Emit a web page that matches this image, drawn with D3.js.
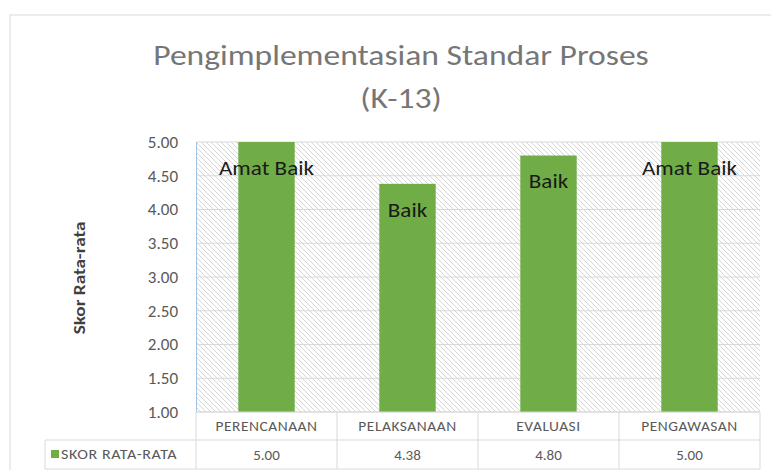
<!DOCTYPE html>
<html>
<head>
<meta charset="utf-8">
<script src="https://cdn.jsdelivr.net/npm/d3@7"></script>
<style>
    body { margin: 0; background: #fff; }
    svg { display: block; font-family: Carlito, Calibri, Lato, "Open Sans", sans-serif; }
</style>
</head>
<body>
<svg id="drawing_region"></svg>
<script>
// data
const categories = ['PERENCANAAN', 'PELAKSANAAN', 'EVALUASI', 'PENGAWASAN'];
const scores = [5.00, 4.38, 4.80, 5.00];
const grades = ['Amat Baik', 'Baik', 'Baik', 'Amat Baik'];
const yTicks = [1.00, 1.50, 2.00, 2.50, 3.00, 3.50, 4.00, 4.50, 5.00];
const seriesName = 'SKOR RATA-RATA';
const titleLines = ['Pengimplementasian Standar Proses', '(K-13)'];

const width = 771, height = 470;
const margin = {top: 142, right: 11, bottom: 58, left: 196};
const inner_width = width - margin.left - margin.right;
const inner_height = height - margin.top - margin.bottom;
const green = '#70ad47';
const textGray = '#595959';
const lineGray = '#d9d9d9';

// Calibri in the original is wider than the fallback font, so widen text a little
function stretch(sel, k) {
    sel.each(function() {
        const t = d3.select(this);
        const x = +t.attr('x') || 0, y = +t.attr('y') || 0;
        t.attr('transform', `translate(${x},${y}) scale(${k},1) translate(${-x},${-y})`);
    });
}

const svg = d3.select('#drawing_region')
    .attr('width', width)
    .attr('height', height);

// hatch pattern for plot background
const defs = svg.append('defs');
const pat = defs.append('pattern')
    .attr('id', 'hatch')
    .attr('patternUnits', 'userSpaceOnUse')
    .attr('width', 5).attr('height', 5);
pat.append('rect').attr('width', 5).attr('height', 5).attr('fill', '#fff');
pat.append('path')
    .attr('d', 'M-1,-1 L6,6 M-1,4 L1,6 M4,-1 L6,1')
    .attr('stroke', '#cccccc').attr('stroke-width', 0.8);

// chart frame
svg.append('rect')
    .attr('x', 10).attr('y', 15)
    .attr('width', width + 20).attr('height', height)
    .attr('fill', 'none').attr('stroke', lineGray);

// title
svg.selectAll('.title')
    .data(titleLines)
    .join('text')
    .attr('class', 'title')
    .attr('x', 401)
    .attr('y', (d, i) => 65 + i * 43)
    .attr('text-anchor', 'middle')
    .attr('fill', '#767676')
    .attr('font-size', 28)
    .text(d => d)
    .call(stretch, 1.2);

const chart = svg.append('g')
    .attr('transform', `translate(${margin.left}, ${margin.top})`);

const xscale = d3.scaleBand().domain(categories).range([0, inner_width]).paddingInner(0.6).paddingOuter(0.3);
const xcell = d3.scaleBand().domain(categories).range([0, inner_width]);
const yscale = d3.scaleLinear().domain([1, 5]).range([inner_height, 0]);

chart.append('rect')
    .attr('width', inner_width).attr('height', inner_height)
    .attr('fill', 'url(#hatch)');

// gridlines
chart.append('g')
    .selectAll('line')
    .data(yTicks)
    .join('line')
    .attr('x1', 0).attr('x2', inner_width)
    .attr('y1', d => yscale(d)).attr('y2', d => yscale(d))
    .attr('stroke', lineGray).attr('stroke-width', 1);

// y axis
const yaxis = d3.axisLeft(yscale).tickValues(yTicks).tickFormat(d3.format('.2f')).tickSize(0).tickPadding(18);
const yaxis_group = chart.append('g').call(yaxis);
yaxis_group.select('.domain').attr('stroke', '#9dc3e6');
yaxis_group.selectAll('text').attr('fill', textGray).attr('font-size', 17)
    .attr('font-family', 'Carlito, Calibri, Lato, sans-serif');

// bars
chart.selectAll('.bar')
    .data(scores)
    .join('rect')
    .attr('class', 'bar')
    .attr('x', (d, i) => xscale(categories[i]))
    .attr('y', d => yscale(d))
    .attr('width', xscale.bandwidth())
    .attr('height', d => inner_height - yscale(d))
    .attr('fill', green);

// value labels
chart.selectAll('.lbl')
    .data(grades)
    .join('text')
    .attr('class', 'lbl')
    .attr('x', (d, i) => xscale(categories[i]) + xscale.bandwidth() / 2)
    .attr('y', (d, i) => yscale(scores[i]) + 33)
    .attr('text-anchor', 'middle')
    .attr('fill', '#1a1a1a')
    .attr('font-size', 21)
    .text(d => d)
    .call(stretch, 1.1);

// y axis title
svg.append('text')
    .attr('transform', 'translate(85, 278) rotate(-90) scale(1.2,1)')
    .attr('text-anchor', 'middle')
    .attr('font-size', 16)
    .attr('font-weight', 'bold')
    .attr('fill', '#404040')
    .text('Skor Rata-rata');

// data table
const table = chart.append('g').attr('transform', `translate(0, ${inner_height})`);
const rowH = [28, 29];
const tableLeft = 45 - margin.left;

table.append('line').attr('x1', 0).attr('x2', inner_width).attr('y1', 0).attr('y2', 0).attr('stroke', lineGray);
table.append('line').attr('x1', tableLeft).attr('x2', inner_width).attr('y1', rowH[0]).attr('y2', rowH[0]).attr('stroke', lineGray);
table.append('line').attr('x1', tableLeft).attr('x2', inner_width).attr('y1', rowH[0] + rowH[1]).attr('y2', rowH[0] + rowH[1]).attr('stroke', lineGray);
table.append('line').attr('x1', tableLeft).attr('x2', tableLeft).attr('y1', rowH[0]).attr('y2', rowH[0] + rowH[1]).attr('stroke', lineGray);

table.selectAll('.vline')
    .data(categories.concat(['end']))
    .join('line')
    .attr('class', 'vline')
    .attr('x1', (d, i) => i < categories.length ? xcell(d) : inner_width)
    .attr('x2', (d, i) => i < categories.length ? xcell(d) : inner_width)
    .attr('y1', 0).attr('y2', rowH[0] + rowH[1])
    .attr('stroke', lineGray);

table.selectAll('.cat')
    .data(categories)
    .join('text')
    .attr('class', 'cat')
    .attr('x', d => xcell(d) + xcell.bandwidth() / 2)
    .attr('y', 19)
    .attr('text-anchor', 'middle')
    .attr('fill', textGray)
    .attr('font-size', 14)
    .attr('letter-spacing', 0.5)
    .text(d => d)
    .call(stretch, 1.1);

table.selectAll('.val')
    .data(scores)
    .join('text')
    .attr('class', 'val')
    .attr('x', (d, i) => xcell(categories[i]) + xcell.bandwidth() / 2)
    .attr('y', rowH[0] + 20)
    .attr('text-anchor', 'middle')
    .attr('fill', textGray)
    .attr('font-size', 15)
    .text(d => d3.format('.2f')(d));

table.append('rect')
    .attr('x', tableLeft + 6).attr('y', rowH[0] + 10)
    .attr('width', 8).attr('height', 8)
    .attr('fill', green);
table.append('text')
    .attr('x', tableLeft + 16).attr('y', rowH[0] + 19)
    .attr('fill', textGray)
    .attr('font-size', 14)
    .attr('letter-spacing', 0.5)
    .text(seriesName)
    .call(stretch, 1.15);
</script>
</body>
</html>
